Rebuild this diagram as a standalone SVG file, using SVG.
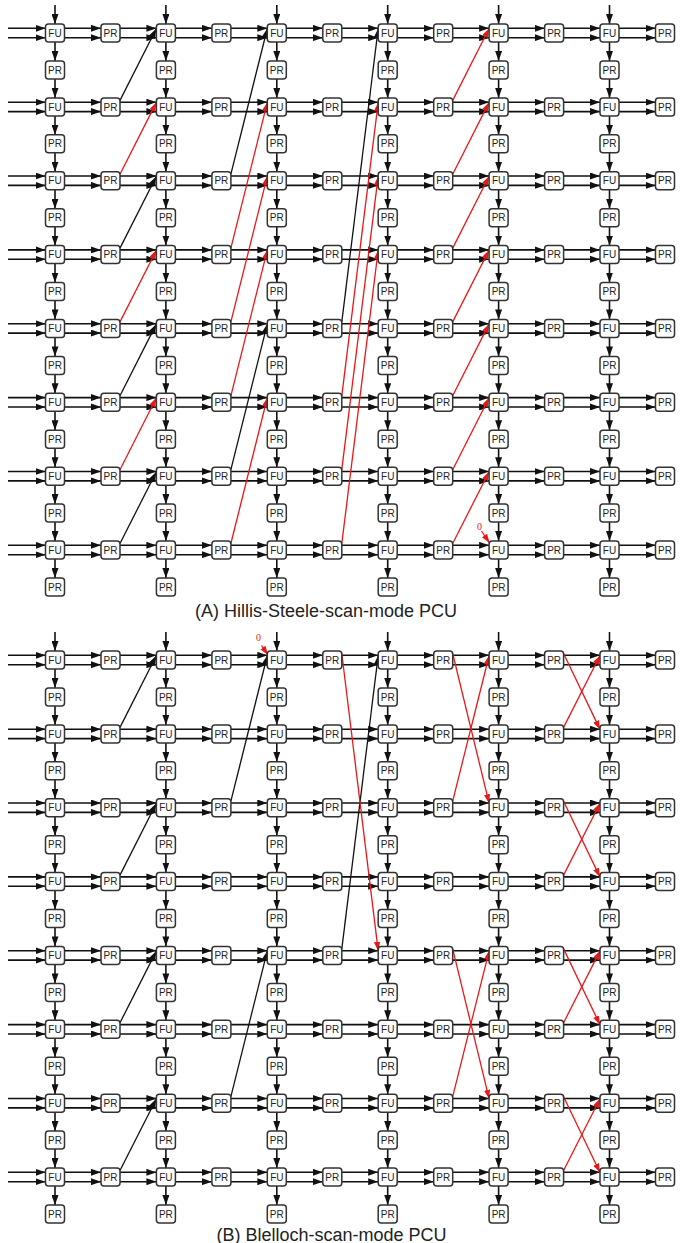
<svg xmlns="http://www.w3.org/2000/svg" xmlns:xlink="http://www.w3.org/1999/xlink" width="687" height="1243" viewBox="0 0 687 1243">
<style>
rect{fill:#fff;stroke:#333;stroke-width:1.5}
text{font-family:"Liberation Sans",Arial,sans-serif;font-size:10px;text-anchor:middle;fill:#222}
.title{font-size:18px;text-anchor:start}
.zero{font-family:"Liberation Serif","Times New Roman",serif;font-size:10px;fill:#e81818}
.h line{stroke:#111;stroke-width:1.6;marker-end:url(#ak)}
.k{stroke:#111;stroke-width:1.3;marker-end:url(#ak)}
.r{stroke:#e81818;stroke-width:1.3;marker-end:url(#ar)}
</style>
<defs>
<marker id="ak" viewBox="0 0 10 7" refX="10" refY="3.5" markerWidth="10" markerHeight="7" markerUnits="userSpaceOnUse" orient="auto"><path d="M0,0L10,3.5L0,7z" fill="#111"/></marker>
<marker id="ar" viewBox="0 0 10 7" refX="10" refY="3.5" markerWidth="9" markerHeight="6.3" markerUnits="userSpaceOnUse" orient="auto"><path d="M0,0L10,3.5L0,7z" fill="#e81818"/></marker>
<g id="hrow" class="h">
<line x1="8" y1="-4.7" x2="45.5" y2="-4.7"/><line x1="8" y1="4.7" x2="45.5" y2="4.7"/>
<line x1="64.5" y1="-4.7" x2="101" y2="-4.7"/><line x1="64.5" y1="4.7" x2="101" y2="4.7"/>
<line x1="120" y1="-4.7" x2="156.4" y2="-4.7"/><line x1="120" y1="4.7" x2="156.4" y2="4.7"/>
<line x1="175.4" y1="-4.7" x2="211.9" y2="-4.7"/><line x1="175.4" y1="4.7" x2="211.9" y2="4.7"/>
<line x1="230.9" y1="-4.7" x2="267.3" y2="-4.7"/><line x1="230.9" y1="4.7" x2="267.3" y2="4.7"/>
<line x1="286.3" y1="-4.7" x2="322.8" y2="-4.7"/><line x1="286.3" y1="4.7" x2="322.8" y2="4.7"/>
<line x1="341.8" y1="-4.7" x2="378.2" y2="-4.7"/><line x1="341.8" y1="4.7" x2="378.2" y2="4.7"/>
<line x1="397.2" y1="-4.7" x2="433.7" y2="-4.7"/><line x1="397.2" y1="4.7" x2="433.7" y2="4.7"/>
<line x1="452.7" y1="-4.7" x2="489.1" y2="-4.7"/><line x1="452.7" y1="4.7" x2="489.1" y2="4.7"/>
<line x1="508.1" y1="-4.7" x2="544.6" y2="-4.7"/><line x1="508.1" y1="4.7" x2="544.6" y2="4.7"/>
<line x1="563.6" y1="-4.7" x2="600" y2="-4.7"/><line x1="563.6" y1="4.7" x2="600" y2="4.7"/>
<line x1="619" y1="-4.7" x2="655.5" y2="-4.7"/><line x1="619" y1="4.7" x2="655.5" y2="4.7"/>
</g>
<g id="vcol" class="h">
<line x1="0" y1="-28" x2="0" y2="-9"/>
<line x1="0" y1="9" x2="0" y2="27.9"/><line x1="0" y1="45.9" x2="0" y2="64.9"/>
<line x1="0" y1="82.9" x2="0" y2="101.8"/><line x1="0" y1="119.8" x2="0" y2="138.7"/>
<line x1="0" y1="156.7" x2="0" y2="175.7"/><line x1="0" y1="193.7" x2="0" y2="212.6"/>
<line x1="0" y1="230.6" x2="0" y2="249.5"/><line x1="0" y1="267.5" x2="0" y2="286.4"/>
<line x1="0" y1="304.4" x2="0" y2="323.4"/><line x1="0" y1="341.4" x2="0" y2="360.3"/>
<line x1="0" y1="378.3" x2="0" y2="397.2"/><line x1="0" y1="415.2" x2="0" y2="434.2"/>
<line x1="0" y1="452.2" x2="0" y2="471.1"/><line x1="0" y1="489.1" x2="0" y2="508"/>
<line x1="0" y1="526" x2="0" y2="545"/>
</g>
</defs>
<rect x="0" y="0" width="687" height="1243" style="fill:#fff;stroke:none"/>
<g id="connectors">
<use href="#hrow" y="33"/><use href="#hrow" y="106.9"/><use href="#hrow" y="180.7"/><use href="#hrow" y="254.6"/>
<use href="#hrow" y="328.4"/><use href="#hrow" y="402.3"/><use href="#hrow" y="476.2"/><use href="#hrow" y="550"/>
<use href="#hrow" y="660"/><use href="#hrow" y="733.9"/><use href="#hrow" y="807.7"/><use href="#hrow" y="881.6"/>
<use href="#hrow" y="955.4"/><use href="#hrow" y="1029.3"/><use href="#hrow" y="1103.2"/><use href="#hrow" y="1177"/>
<use href="#vcol" x="55" y="33"/><use href="#vcol" x="165.9" y="33"/><use href="#vcol" x="276.8" y="33"/>
<use href="#vcol" x="387.7" y="33"/><use href="#vcol" x="498.6" y="33"/><use href="#vcol" x="609.5" y="33"/>
<use href="#vcol" x="55" y="660"/><use href="#vcol" x="165.9" y="660"/><use href="#vcol" x="276.8" y="660"/>
<use href="#vcol" x="387.7" y="660"/><use href="#vcol" x="498.6" y="660"/><use href="#vcol" x="609.5" y="660"/>
<!-- Panel A diagonals -->
<line class="k" x1="120" y1="100.4" x2="156.4" y2="28.5"/>
<line class="r" x1="120" y1="174.2" x2="156.4" y2="102.4"/>
<line class="k" x1="120" y1="248.1" x2="156.4" y2="176.2"/>
<line class="r" x1="120" y1="321.9" x2="156.4" y2="250.1"/>
<line class="k" x1="120" y1="395.8" x2="156.4" y2="323.9"/>
<line class="r" x1="120" y1="469.7" x2="156.4" y2="397.8"/>
<line class="k" x1="120" y1="543.5" x2="156.4" y2="471.7"/>
<line class="k" x1="230.9" y1="174.2" x2="267.3" y2="28.5"/>
<line class="r" x1="230.9" y1="248.1" x2="267.3" y2="102.4"/>
<line class="r" x1="230.9" y1="321.9" x2="267.3" y2="176.2"/>
<line class="r" x1="230.9" y1="395.8" x2="267.3" y2="250.1"/>
<line class="k" x1="230.9" y1="469.7" x2="267.3" y2="323.9"/>
<line class="r" x1="230.9" y1="543.5" x2="267.3" y2="397.8"/>
<line class="k" x1="341.8" y1="321.9" x2="378.2" y2="28.5"/>
<line class="r" x1="341.8" y1="395.8" x2="378.2" y2="102.4"/>
<line class="r" x1="341.8" y1="469.7" x2="378.2" y2="176.2"/>
<line class="r" x1="341.8" y1="543.5" x2="378.2" y2="250.1"/>
<line class="r" x1="452.7" y1="100.4" x2="489.1" y2="28.5"/>
<line class="r" x1="452.7" y1="174.2" x2="489.1" y2="102.4"/>
<line class="r" x1="452.7" y1="248.1" x2="489.1" y2="176.2"/>
<line class="r" x1="452.7" y1="321.9" x2="489.1" y2="250.1"/>
<line class="r" x1="452.7" y1="395.8" x2="489.1" y2="323.9"/>
<line class="r" x1="452.7" y1="469.7" x2="489.1" y2="397.8"/>
<line class="r" x1="452.7" y1="543.5" x2="489.1" y2="471.7"/>
<line class="r" x1="481.5" y1="531" x2="489.5" y2="543"/>
<!-- Panel B diagonals -->
<line class="k" x1="120" y1="727.4" x2="156.4" y2="655.5"/>
<line class="k" x1="120" y1="875.1" x2="156.4" y2="803.2"/>
<line class="k" x1="120" y1="1022.8" x2="156.4" y2="950.9"/>
<line class="k" x1="120" y1="1170.5" x2="156.4" y2="1098.7"/>
<line class="k" x1="230.9" y1="801.2" x2="267.3" y2="655.5"/>
<line class="k" x1="230.9" y1="1096.7" x2="267.3" y2="950.9"/>
<line class="k" x1="341.8" y1="948.9" x2="378.2" y2="655.5"/>
<line class="r" x1="341.8" y1="653.5" x2="378.2" y2="950.9"/>
<line class="r" x1="261.5" y1="645.5" x2="268" y2="655"/>
<line class="r" x1="452.7" y1="653.5" x2="489.1" y2="803.2"/>
<line class="r" x1="452.7" y1="801.2" x2="489.1" y2="655.5"/>
<line class="r" x1="452.7" y1="948.9" x2="489.1" y2="1098.7"/>
<line class="r" x1="452.7" y1="1096.7" x2="489.1" y2="950.9"/>
<line class="r" x1="563.6" y1="653.5" x2="600" y2="729.4"/>
<line class="r" x1="563.6" y1="727.4" x2="600" y2="655.5"/>
<line class="r" x1="563.6" y1="801.2" x2="600" y2="877.1"/>
<line class="r" x1="563.6" y1="875.1" x2="600" y2="803.2"/>
<line class="r" x1="563.6" y1="948.9" x2="600" y2="1024.8"/>
<line class="r" x1="563.6" y1="1022.8" x2="600" y2="950.9"/>
<line class="r" x1="563.6" y1="1096.7" x2="600" y2="1172.5"/>
<line class="r" x1="563.6" y1="1170.5" x2="600" y2="1098.7"/>
</g>
<text class="zero" x="479.5" y="529.5">0</text>
<text class="zero" x="258.5" y="641">0</text>
<g id="panelA">
<g id="aFU1-1" transform="translate(55,33)"><rect x="-9.5" y="-9" width="19" height="18" rx="3"/><text y="3.6">FU</text></g>
<g id="aFU1-2" transform="translate(165.9,33)"><rect x="-9.5" y="-9" width="19" height="18" rx="3"/><text y="3.6">FU</text></g>
<g id="aFU1-3" transform="translate(276.8,33)"><rect x="-9.5" y="-9" width="19" height="18" rx="3"/><text y="3.6">FU</text></g>
<g id="aFU1-4" transform="translate(387.7,33)"><rect x="-9.5" y="-9" width="19" height="18" rx="3"/><text y="3.6">FU</text></g>
<g id="aFU1-5" transform="translate(498.6,33)"><rect x="-9.5" y="-9" width="19" height="18" rx="3"/><text y="3.6">FU</text></g>
<g id="aFU1-6" transform="translate(609.5,33)"><rect x="-9.5" y="-9" width="19" height="18" rx="3"/><text y="3.6">FU</text></g>
<g id="aPRh1-1" transform="translate(110.5,33)"><rect x="-9.5" y="-9" width="19" height="18" rx="3"/><text y="3.6">PR</text></g>
<g id="aPRh1-2" transform="translate(221.4,33)"><rect x="-9.5" y="-9" width="19" height="18" rx="3"/><text y="3.6">PR</text></g>
<g id="aPRh1-3" transform="translate(332.3,33)"><rect x="-9.5" y="-9" width="19" height="18" rx="3"/><text y="3.6">PR</text></g>
<g id="aPRh1-4" transform="translate(443.2,33)"><rect x="-9.5" y="-9" width="19" height="18" rx="3"/><text y="3.6">PR</text></g>
<g id="aPRh1-5" transform="translate(554.1,33)"><rect x="-9.5" y="-9" width="19" height="18" rx="3"/><text y="3.6">PR</text></g>
<g id="aPRh1-6" transform="translate(665,33)"><rect x="-9.5" y="-9" width="19" height="18" rx="3"/><text y="3.6">PR</text></g>
<g id="aPRv1-1" transform="translate(55,69.9)"><rect x="-9.5" y="-9" width="19" height="18" rx="3"/><text y="3.6">PR</text></g>
<g id="aPRv1-2" transform="translate(165.9,69.9)"><rect x="-9.5" y="-9" width="19" height="18" rx="3"/><text y="3.6">PR</text></g>
<g id="aPRv1-3" transform="translate(276.8,69.9)"><rect x="-9.5" y="-9" width="19" height="18" rx="3"/><text y="3.6">PR</text></g>
<g id="aPRv1-4" transform="translate(387.7,69.9)"><rect x="-9.5" y="-9" width="19" height="18" rx="3"/><text y="3.6">PR</text></g>
<g id="aPRv1-5" transform="translate(498.6,69.9)"><rect x="-9.5" y="-9" width="19" height="18" rx="3"/><text y="3.6">PR</text></g>
<g id="aPRv1-6" transform="translate(609.5,69.9)"><rect x="-9.5" y="-9" width="19" height="18" rx="3"/><text y="3.6">PR</text></g>
<g id="aFU2-1" transform="translate(55,106.9)"><rect x="-9.5" y="-9" width="19" height="18" rx="3"/><text y="3.6">FU</text></g>
<g id="aFU2-2" transform="translate(165.9,106.9)"><rect x="-9.5" y="-9" width="19" height="18" rx="3"/><text y="3.6">FU</text></g>
<g id="aFU2-3" transform="translate(276.8,106.9)"><rect x="-9.5" y="-9" width="19" height="18" rx="3"/><text y="3.6">FU</text></g>
<g id="aFU2-4" transform="translate(387.7,106.9)"><rect x="-9.5" y="-9" width="19" height="18" rx="3"/><text y="3.6">FU</text></g>
<g id="aFU2-5" transform="translate(498.6,106.9)"><rect x="-9.5" y="-9" width="19" height="18" rx="3"/><text y="3.6">FU</text></g>
<g id="aFU2-6" transform="translate(609.5,106.9)"><rect x="-9.5" y="-9" width="19" height="18" rx="3"/><text y="3.6">FU</text></g>
<g id="aPRh2-1" transform="translate(110.5,106.9)"><rect x="-9.5" y="-9" width="19" height="18" rx="3"/><text y="3.6">PR</text></g>
<g id="aPRh2-2" transform="translate(221.4,106.9)"><rect x="-9.5" y="-9" width="19" height="18" rx="3"/><text y="3.6">PR</text></g>
<g id="aPRh2-3" transform="translate(332.3,106.9)"><rect x="-9.5" y="-9" width="19" height="18" rx="3"/><text y="3.6">PR</text></g>
<g id="aPRh2-4" transform="translate(443.2,106.9)"><rect x="-9.5" y="-9" width="19" height="18" rx="3"/><text y="3.6">PR</text></g>
<g id="aPRh2-5" transform="translate(554.1,106.9)"><rect x="-9.5" y="-9" width="19" height="18" rx="3"/><text y="3.6">PR</text></g>
<g id="aPRh2-6" transform="translate(665,106.9)"><rect x="-9.5" y="-9" width="19" height="18" rx="3"/><text y="3.6">PR</text></g>
<g id="aPRv2-1" transform="translate(55,143.8)"><rect x="-9.5" y="-9" width="19" height="18" rx="3"/><text y="3.6">PR</text></g>
<g id="aPRv2-2" transform="translate(165.9,143.8)"><rect x="-9.5" y="-9" width="19" height="18" rx="3"/><text y="3.6">PR</text></g>
<g id="aPRv2-3" transform="translate(276.8,143.8)"><rect x="-9.5" y="-9" width="19" height="18" rx="3"/><text y="3.6">PR</text></g>
<g id="aPRv2-4" transform="translate(387.7,143.8)"><rect x="-9.5" y="-9" width="19" height="18" rx="3"/><text y="3.6">PR</text></g>
<g id="aPRv2-5" transform="translate(498.6,143.8)"><rect x="-9.5" y="-9" width="19" height="18" rx="3"/><text y="3.6">PR</text></g>
<g id="aPRv2-6" transform="translate(609.5,143.8)"><rect x="-9.5" y="-9" width="19" height="18" rx="3"/><text y="3.6">PR</text></g>
<g id="aFU3-1" transform="translate(55,180.7)"><rect x="-9.5" y="-9" width="19" height="18" rx="3"/><text y="3.6">FU</text></g>
<g id="aFU3-2" transform="translate(165.9,180.7)"><rect x="-9.5" y="-9" width="19" height="18" rx="3"/><text y="3.6">FU</text></g>
<g id="aFU3-3" transform="translate(276.8,180.7)"><rect x="-9.5" y="-9" width="19" height="18" rx="3"/><text y="3.6">FU</text></g>
<g id="aFU3-4" transform="translate(387.7,180.7)"><rect x="-9.5" y="-9" width="19" height="18" rx="3"/><text y="3.6">FU</text></g>
<g id="aFU3-5" transform="translate(498.6,180.7)"><rect x="-9.5" y="-9" width="19" height="18" rx="3"/><text y="3.6">FU</text></g>
<g id="aFU3-6" transform="translate(609.5,180.7)"><rect x="-9.5" y="-9" width="19" height="18" rx="3"/><text y="3.6">FU</text></g>
<g id="aPRh3-1" transform="translate(110.5,180.7)"><rect x="-9.5" y="-9" width="19" height="18" rx="3"/><text y="3.6">PR</text></g>
<g id="aPRh3-2" transform="translate(221.4,180.7)"><rect x="-9.5" y="-9" width="19" height="18" rx="3"/><text y="3.6">PR</text></g>
<g id="aPRh3-3" transform="translate(332.3,180.7)"><rect x="-9.5" y="-9" width="19" height="18" rx="3"/><text y="3.6">PR</text></g>
<g id="aPRh3-4" transform="translate(443.2,180.7)"><rect x="-9.5" y="-9" width="19" height="18" rx="3"/><text y="3.6">PR</text></g>
<g id="aPRh3-5" transform="translate(554.1,180.7)"><rect x="-9.5" y="-9" width="19" height="18" rx="3"/><text y="3.6">PR</text></g>
<g id="aPRh3-6" transform="translate(665,180.7)"><rect x="-9.5" y="-9" width="19" height="18" rx="3"/><text y="3.6">PR</text></g>
<g id="aPRv3-1" transform="translate(55,217.7)"><rect x="-9.5" y="-9" width="19" height="18" rx="3"/><text y="3.6">PR</text></g>
<g id="aPRv3-2" transform="translate(165.9,217.7)"><rect x="-9.5" y="-9" width="19" height="18" rx="3"/><text y="3.6">PR</text></g>
<g id="aPRv3-3" transform="translate(276.8,217.7)"><rect x="-9.5" y="-9" width="19" height="18" rx="3"/><text y="3.6">PR</text></g>
<g id="aPRv3-4" transform="translate(387.7,217.7)"><rect x="-9.5" y="-9" width="19" height="18" rx="3"/><text y="3.6">PR</text></g>
<g id="aPRv3-5" transform="translate(498.6,217.7)"><rect x="-9.5" y="-9" width="19" height="18" rx="3"/><text y="3.6">PR</text></g>
<g id="aPRv3-6" transform="translate(609.5,217.7)"><rect x="-9.5" y="-9" width="19" height="18" rx="3"/><text y="3.6">PR</text></g>
<g id="aFU4-1" transform="translate(55,254.6)"><rect x="-9.5" y="-9" width="19" height="18" rx="3"/><text y="3.6">FU</text></g>
<g id="aFU4-2" transform="translate(165.9,254.6)"><rect x="-9.5" y="-9" width="19" height="18" rx="3"/><text y="3.6">FU</text></g>
<g id="aFU4-3" transform="translate(276.8,254.6)"><rect x="-9.5" y="-9" width="19" height="18" rx="3"/><text y="3.6">FU</text></g>
<g id="aFU4-4" transform="translate(387.7,254.6)"><rect x="-9.5" y="-9" width="19" height="18" rx="3"/><text y="3.6">FU</text></g>
<g id="aFU4-5" transform="translate(498.6,254.6)"><rect x="-9.5" y="-9" width="19" height="18" rx="3"/><text y="3.6">FU</text></g>
<g id="aFU4-6" transform="translate(609.5,254.6)"><rect x="-9.5" y="-9" width="19" height="18" rx="3"/><text y="3.6">FU</text></g>
<g id="aPRh4-1" transform="translate(110.5,254.6)"><rect x="-9.5" y="-9" width="19" height="18" rx="3"/><text y="3.6">PR</text></g>
<g id="aPRh4-2" transform="translate(221.4,254.6)"><rect x="-9.5" y="-9" width="19" height="18" rx="3"/><text y="3.6">PR</text></g>
<g id="aPRh4-3" transform="translate(332.3,254.6)"><rect x="-9.5" y="-9" width="19" height="18" rx="3"/><text y="3.6">PR</text></g>
<g id="aPRh4-4" transform="translate(443.2,254.6)"><rect x="-9.5" y="-9" width="19" height="18" rx="3"/><text y="3.6">PR</text></g>
<g id="aPRh4-5" transform="translate(554.1,254.6)"><rect x="-9.5" y="-9" width="19" height="18" rx="3"/><text y="3.6">PR</text></g>
<g id="aPRh4-6" transform="translate(665,254.6)"><rect x="-9.5" y="-9" width="19" height="18" rx="3"/><text y="3.6">PR</text></g>
<g id="aPRv4-1" transform="translate(55,291.5)"><rect x="-9.5" y="-9" width="19" height="18" rx="3"/><text y="3.6">PR</text></g>
<g id="aPRv4-2" transform="translate(165.9,291.5)"><rect x="-9.5" y="-9" width="19" height="18" rx="3"/><text y="3.6">PR</text></g>
<g id="aPRv4-3" transform="translate(276.8,291.5)"><rect x="-9.5" y="-9" width="19" height="18" rx="3"/><text y="3.6">PR</text></g>
<g id="aPRv4-4" transform="translate(387.7,291.5)"><rect x="-9.5" y="-9" width="19" height="18" rx="3"/><text y="3.6">PR</text></g>
<g id="aPRv4-5" transform="translate(498.6,291.5)"><rect x="-9.5" y="-9" width="19" height="18" rx="3"/><text y="3.6">PR</text></g>
<g id="aPRv4-6" transform="translate(609.5,291.5)"><rect x="-9.5" y="-9" width="19" height="18" rx="3"/><text y="3.6">PR</text></g>
<g id="aFU5-1" transform="translate(55,328.4)"><rect x="-9.5" y="-9" width="19" height="18" rx="3"/><text y="3.6">FU</text></g>
<g id="aFU5-2" transform="translate(165.9,328.4)"><rect x="-9.5" y="-9" width="19" height="18" rx="3"/><text y="3.6">FU</text></g>
<g id="aFU5-3" transform="translate(276.8,328.4)"><rect x="-9.5" y="-9" width="19" height="18" rx="3"/><text y="3.6">FU</text></g>
<g id="aFU5-4" transform="translate(387.7,328.4)"><rect x="-9.5" y="-9" width="19" height="18" rx="3"/><text y="3.6">FU</text></g>
<g id="aFU5-5" transform="translate(498.6,328.4)"><rect x="-9.5" y="-9" width="19" height="18" rx="3"/><text y="3.6">FU</text></g>
<g id="aFU5-6" transform="translate(609.5,328.4)"><rect x="-9.5" y="-9" width="19" height="18" rx="3"/><text y="3.6">FU</text></g>
<g id="aPRh5-1" transform="translate(110.5,328.4)"><rect x="-9.5" y="-9" width="19" height="18" rx="3"/><text y="3.6">PR</text></g>
<g id="aPRh5-2" transform="translate(221.4,328.4)"><rect x="-9.5" y="-9" width="19" height="18" rx="3"/><text y="3.6">PR</text></g>
<g id="aPRh5-3" transform="translate(332.3,328.4)"><rect x="-9.5" y="-9" width="19" height="18" rx="3"/><text y="3.6">PR</text></g>
<g id="aPRh5-4" transform="translate(443.2,328.4)"><rect x="-9.5" y="-9" width="19" height="18" rx="3"/><text y="3.6">PR</text></g>
<g id="aPRh5-5" transform="translate(554.1,328.4)"><rect x="-9.5" y="-9" width="19" height="18" rx="3"/><text y="3.6">PR</text></g>
<g id="aPRh5-6" transform="translate(665,328.4)"><rect x="-9.5" y="-9" width="19" height="18" rx="3"/><text y="3.6">PR</text></g>
<g id="aPRv5-1" transform="translate(55,365.4)"><rect x="-9.5" y="-9" width="19" height="18" rx="3"/><text y="3.6">PR</text></g>
<g id="aPRv5-2" transform="translate(165.9,365.4)"><rect x="-9.5" y="-9" width="19" height="18" rx="3"/><text y="3.6">PR</text></g>
<g id="aPRv5-3" transform="translate(276.8,365.4)"><rect x="-9.5" y="-9" width="19" height="18" rx="3"/><text y="3.6">PR</text></g>
<g id="aPRv5-4" transform="translate(387.7,365.4)"><rect x="-9.5" y="-9" width="19" height="18" rx="3"/><text y="3.6">PR</text></g>
<g id="aPRv5-5" transform="translate(498.6,365.4)"><rect x="-9.5" y="-9" width="19" height="18" rx="3"/><text y="3.6">PR</text></g>
<g id="aPRv5-6" transform="translate(609.5,365.4)"><rect x="-9.5" y="-9" width="19" height="18" rx="3"/><text y="3.6">PR</text></g>
<g id="aFU6-1" transform="translate(55,402.3)"><rect x="-9.5" y="-9" width="19" height="18" rx="3"/><text y="3.6">FU</text></g>
<g id="aFU6-2" transform="translate(165.9,402.3)"><rect x="-9.5" y="-9" width="19" height="18" rx="3"/><text y="3.6">FU</text></g>
<g id="aFU6-3" transform="translate(276.8,402.3)"><rect x="-9.5" y="-9" width="19" height="18" rx="3"/><text y="3.6">FU</text></g>
<g id="aFU6-4" transform="translate(387.7,402.3)"><rect x="-9.5" y="-9" width="19" height="18" rx="3"/><text y="3.6">FU</text></g>
<g id="aFU6-5" transform="translate(498.6,402.3)"><rect x="-9.5" y="-9" width="19" height="18" rx="3"/><text y="3.6">FU</text></g>
<g id="aFU6-6" transform="translate(609.5,402.3)"><rect x="-9.5" y="-9" width="19" height="18" rx="3"/><text y="3.6">FU</text></g>
<g id="aPRh6-1" transform="translate(110.5,402.3)"><rect x="-9.5" y="-9" width="19" height="18" rx="3"/><text y="3.6">PR</text></g>
<g id="aPRh6-2" transform="translate(221.4,402.3)"><rect x="-9.5" y="-9" width="19" height="18" rx="3"/><text y="3.6">PR</text></g>
<g id="aPRh6-3" transform="translate(332.3,402.3)"><rect x="-9.5" y="-9" width="19" height="18" rx="3"/><text y="3.6">PR</text></g>
<g id="aPRh6-4" transform="translate(443.2,402.3)"><rect x="-9.5" y="-9" width="19" height="18" rx="3"/><text y="3.6">PR</text></g>
<g id="aPRh6-5" transform="translate(554.1,402.3)"><rect x="-9.5" y="-9" width="19" height="18" rx="3"/><text y="3.6">PR</text></g>
<g id="aPRh6-6" transform="translate(665,402.3)"><rect x="-9.5" y="-9" width="19" height="18" rx="3"/><text y="3.6">PR</text></g>
<g id="aPRv6-1" transform="translate(55,439.2)"><rect x="-9.5" y="-9" width="19" height="18" rx="3"/><text y="3.6">PR</text></g>
<g id="aPRv6-2" transform="translate(165.9,439.2)"><rect x="-9.5" y="-9" width="19" height="18" rx="3"/><text y="3.6">PR</text></g>
<g id="aPRv6-3" transform="translate(276.8,439.2)"><rect x="-9.5" y="-9" width="19" height="18" rx="3"/><text y="3.6">PR</text></g>
<g id="aPRv6-4" transform="translate(387.7,439.2)"><rect x="-9.5" y="-9" width="19" height="18" rx="3"/><text y="3.6">PR</text></g>
<g id="aPRv6-5" transform="translate(498.6,439.2)"><rect x="-9.5" y="-9" width="19" height="18" rx="3"/><text y="3.6">PR</text></g>
<g id="aPRv6-6" transform="translate(609.5,439.2)"><rect x="-9.5" y="-9" width="19" height="18" rx="3"/><text y="3.6">PR</text></g>
<g id="aFU7-1" transform="translate(55,476.2)"><rect x="-9.5" y="-9" width="19" height="18" rx="3"/><text y="3.6">FU</text></g>
<g id="aFU7-2" transform="translate(165.9,476.2)"><rect x="-9.5" y="-9" width="19" height="18" rx="3"/><text y="3.6">FU</text></g>
<g id="aFU7-3" transform="translate(276.8,476.2)"><rect x="-9.5" y="-9" width="19" height="18" rx="3"/><text y="3.6">FU</text></g>
<g id="aFU7-4" transform="translate(387.7,476.2)"><rect x="-9.5" y="-9" width="19" height="18" rx="3"/><text y="3.6">FU</text></g>
<g id="aFU7-5" transform="translate(498.6,476.2)"><rect x="-9.5" y="-9" width="19" height="18" rx="3"/><text y="3.6">FU</text></g>
<g id="aFU7-6" transform="translate(609.5,476.2)"><rect x="-9.5" y="-9" width="19" height="18" rx="3"/><text y="3.6">FU</text></g>
<g id="aPRh7-1" transform="translate(110.5,476.2)"><rect x="-9.5" y="-9" width="19" height="18" rx="3"/><text y="3.6">PR</text></g>
<g id="aPRh7-2" transform="translate(221.4,476.2)"><rect x="-9.5" y="-9" width="19" height="18" rx="3"/><text y="3.6">PR</text></g>
<g id="aPRh7-3" transform="translate(332.3,476.2)"><rect x="-9.5" y="-9" width="19" height="18" rx="3"/><text y="3.6">PR</text></g>
<g id="aPRh7-4" transform="translate(443.2,476.2)"><rect x="-9.5" y="-9" width="19" height="18" rx="3"/><text y="3.6">PR</text></g>
<g id="aPRh7-5" transform="translate(554.1,476.2)"><rect x="-9.5" y="-9" width="19" height="18" rx="3"/><text y="3.6">PR</text></g>
<g id="aPRh7-6" transform="translate(665,476.2)"><rect x="-9.5" y="-9" width="19" height="18" rx="3"/><text y="3.6">PR</text></g>
<g id="aPRv7-1" transform="translate(55,513.1)"><rect x="-9.5" y="-9" width="19" height="18" rx="3"/><text y="3.6">PR</text></g>
<g id="aPRv7-2" transform="translate(165.9,513.1)"><rect x="-9.5" y="-9" width="19" height="18" rx="3"/><text y="3.6">PR</text></g>
<g id="aPRv7-3" transform="translate(276.8,513.1)"><rect x="-9.5" y="-9" width="19" height="18" rx="3"/><text y="3.6">PR</text></g>
<g id="aPRv7-4" transform="translate(387.7,513.1)"><rect x="-9.5" y="-9" width="19" height="18" rx="3"/><text y="3.6">PR</text></g>
<g id="aPRv7-5" transform="translate(498.6,513.1)"><rect x="-9.5" y="-9" width="19" height="18" rx="3"/><text y="3.6">PR</text></g>
<g id="aPRv7-6" transform="translate(609.5,513.1)"><rect x="-9.5" y="-9" width="19" height="18" rx="3"/><text y="3.6">PR</text></g>
<g id="aFU8-1" transform="translate(55,550)"><rect x="-9.5" y="-9" width="19" height="18" rx="3"/><text y="3.6">FU</text></g>
<g id="aFU8-2" transform="translate(165.9,550)"><rect x="-9.5" y="-9" width="19" height="18" rx="3"/><text y="3.6">FU</text></g>
<g id="aFU8-3" transform="translate(276.8,550)"><rect x="-9.5" y="-9" width="19" height="18" rx="3"/><text y="3.6">FU</text></g>
<g id="aFU8-4" transform="translate(387.7,550)"><rect x="-9.5" y="-9" width="19" height="18" rx="3"/><text y="3.6">FU</text></g>
<g id="aFU8-5" transform="translate(498.6,550)"><rect x="-9.5" y="-9" width="19" height="18" rx="3"/><text y="3.6">FU</text></g>
<g id="aFU8-6" transform="translate(609.5,550)"><rect x="-9.5" y="-9" width="19" height="18" rx="3"/><text y="3.6">FU</text></g>
<g id="aPRh8-1" transform="translate(110.5,550)"><rect x="-9.5" y="-9" width="19" height="18" rx="3"/><text y="3.6">PR</text></g>
<g id="aPRh8-2" transform="translate(221.4,550)"><rect x="-9.5" y="-9" width="19" height="18" rx="3"/><text y="3.6">PR</text></g>
<g id="aPRh8-3" transform="translate(332.3,550)"><rect x="-9.5" y="-9" width="19" height="18" rx="3"/><text y="3.6">PR</text></g>
<g id="aPRh8-4" transform="translate(443.2,550)"><rect x="-9.5" y="-9" width="19" height="18" rx="3"/><text y="3.6">PR</text></g>
<g id="aPRh8-5" transform="translate(554.1,550)"><rect x="-9.5" y="-9" width="19" height="18" rx="3"/><text y="3.6">PR</text></g>
<g id="aPRh8-6" transform="translate(665,550)"><rect x="-9.5" y="-9" width="19" height="18" rx="3"/><text y="3.6">PR</text></g>
<g id="aPRv8-1" transform="translate(55,587)"><rect x="-9.5" y="-9" width="19" height="18" rx="3"/><text y="3.6">PR</text></g>
<g id="aPRv8-2" transform="translate(165.9,587)"><rect x="-9.5" y="-9" width="19" height="18" rx="3"/><text y="3.6">PR</text></g>
<g id="aPRv8-3" transform="translate(276.8,587)"><rect x="-9.5" y="-9" width="19" height="18" rx="3"/><text y="3.6">PR</text></g>
<g id="aPRv8-4" transform="translate(387.7,587)"><rect x="-9.5" y="-9" width="19" height="18" rx="3"/><text y="3.6">PR</text></g>
<g id="aPRv8-5" transform="translate(498.6,587)"><rect x="-9.5" y="-9" width="19" height="18" rx="3"/><text y="3.6">PR</text></g>
<g id="aPRv8-6" transform="translate(609.5,587)"><rect x="-9.5" y="-9" width="19" height="18" rx="3"/><text y="3.6">PR</text></g>
</g>
<g id="panelB">
<g id="bFU1-1" transform="translate(55,660)"><rect x="-9.5" y="-9" width="19" height="18" rx="3"/><text y="3.6">FU</text></g>
<g id="bFU1-2" transform="translate(165.9,660)"><rect x="-9.5" y="-9" width="19" height="18" rx="3"/><text y="3.6">FU</text></g>
<g id="bFU1-3" transform="translate(276.8,660)"><rect x="-9.5" y="-9" width="19" height="18" rx="3"/><text y="3.6">FU</text></g>
<g id="bFU1-4" transform="translate(387.7,660)"><rect x="-9.5" y="-9" width="19" height="18" rx="3"/><text y="3.6">FU</text></g>
<g id="bFU1-5" transform="translate(498.6,660)"><rect x="-9.5" y="-9" width="19" height="18" rx="3"/><text y="3.6">FU</text></g>
<g id="bFU1-6" transform="translate(609.5,660)"><rect x="-9.5" y="-9" width="19" height="18" rx="3"/><text y="3.6">FU</text></g>
<g id="bPRh1-1" transform="translate(110.5,660)"><rect x="-9.5" y="-9" width="19" height="18" rx="3"/><text y="3.6">PR</text></g>
<g id="bPRh1-2" transform="translate(221.4,660)"><rect x="-9.5" y="-9" width="19" height="18" rx="3"/><text y="3.6">PR</text></g>
<g id="bPRh1-3" transform="translate(332.3,660)"><rect x="-9.5" y="-9" width="19" height="18" rx="3"/><text y="3.6">PR</text></g>
<g id="bPRh1-4" transform="translate(443.2,660)"><rect x="-9.5" y="-9" width="19" height="18" rx="3"/><text y="3.6">PR</text></g>
<g id="bPRh1-5" transform="translate(554.1,660)"><rect x="-9.5" y="-9" width="19" height="18" rx="3"/><text y="3.6">PR</text></g>
<g id="bPRh1-6" transform="translate(665,660)"><rect x="-9.5" y="-9" width="19" height="18" rx="3"/><text y="3.6">PR</text></g>
<g id="bPRv1-1" transform="translate(55,696.9)"><rect x="-9.5" y="-9" width="19" height="18" rx="3"/><text y="3.6">PR</text></g>
<g id="bPRv1-2" transform="translate(165.9,696.9)"><rect x="-9.5" y="-9" width="19" height="18" rx="3"/><text y="3.6">PR</text></g>
<g id="bPRv1-3" transform="translate(276.8,696.9)"><rect x="-9.5" y="-9" width="19" height="18" rx="3"/><text y="3.6">PR</text></g>
<g id="bPRv1-4" transform="translate(387.7,696.9)"><rect x="-9.5" y="-9" width="19" height="18" rx="3"/><text y="3.6">PR</text></g>
<g id="bPRv1-5" transform="translate(498.6,696.9)"><rect x="-9.5" y="-9" width="19" height="18" rx="3"/><text y="3.6">PR</text></g>
<g id="bPRv1-6" transform="translate(609.5,696.9)"><rect x="-9.5" y="-9" width="19" height="18" rx="3"/><text y="3.6">PR</text></g>
<g id="bFU2-1" transform="translate(55,733.9)"><rect x="-9.5" y="-9" width="19" height="18" rx="3"/><text y="3.6">FU</text></g>
<g id="bFU2-2" transform="translate(165.9,733.9)"><rect x="-9.5" y="-9" width="19" height="18" rx="3"/><text y="3.6">FU</text></g>
<g id="bFU2-3" transform="translate(276.8,733.9)"><rect x="-9.5" y="-9" width="19" height="18" rx="3"/><text y="3.6">FU</text></g>
<g id="bFU2-4" transform="translate(387.7,733.9)"><rect x="-9.5" y="-9" width="19" height="18" rx="3"/><text y="3.6">FU</text></g>
<g id="bFU2-5" transform="translate(498.6,733.9)"><rect x="-9.5" y="-9" width="19" height="18" rx="3"/><text y="3.6">FU</text></g>
<g id="bFU2-6" transform="translate(609.5,733.9)"><rect x="-9.5" y="-9" width="19" height="18" rx="3"/><text y="3.6">FU</text></g>
<g id="bPRh2-1" transform="translate(110.5,733.9)"><rect x="-9.5" y="-9" width="19" height="18" rx="3"/><text y="3.6">PR</text></g>
<g id="bPRh2-2" transform="translate(221.4,733.9)"><rect x="-9.5" y="-9" width="19" height="18" rx="3"/><text y="3.6">PR</text></g>
<g id="bPRh2-3" transform="translate(332.3,733.9)"><rect x="-9.5" y="-9" width="19" height="18" rx="3"/><text y="3.6">PR</text></g>
<g id="bPRh2-4" transform="translate(443.2,733.9)"><rect x="-9.5" y="-9" width="19" height="18" rx="3"/><text y="3.6">PR</text></g>
<g id="bPRh2-5" transform="translate(554.1,733.9)"><rect x="-9.5" y="-9" width="19" height="18" rx="3"/><text y="3.6">PR</text></g>
<g id="bPRh2-6" transform="translate(665,733.9)"><rect x="-9.5" y="-9" width="19" height="18" rx="3"/><text y="3.6">PR</text></g>
<g id="bPRv2-1" transform="translate(55,770.8)"><rect x="-9.5" y="-9" width="19" height="18" rx="3"/><text y="3.6">PR</text></g>
<g id="bPRv2-2" transform="translate(165.9,770.8)"><rect x="-9.5" y="-9" width="19" height="18" rx="3"/><text y="3.6">PR</text></g>
<g id="bPRv2-3" transform="translate(276.8,770.8)"><rect x="-9.5" y="-9" width="19" height="18" rx="3"/><text y="3.6">PR</text></g>
<g id="bPRv2-4" transform="translate(387.7,770.8)"><rect x="-9.5" y="-9" width="19" height="18" rx="3"/><text y="3.6">PR</text></g>
<g id="bPRv2-5" transform="translate(498.6,770.8)"><rect x="-9.5" y="-9" width="19" height="18" rx="3"/><text y="3.6">PR</text></g>
<g id="bPRv2-6" transform="translate(609.5,770.8)"><rect x="-9.5" y="-9" width="19" height="18" rx="3"/><text y="3.6">PR</text></g>
<g id="bFU3-1" transform="translate(55,807.7)"><rect x="-9.5" y="-9" width="19" height="18" rx="3"/><text y="3.6">FU</text></g>
<g id="bFU3-2" transform="translate(165.9,807.7)"><rect x="-9.5" y="-9" width="19" height="18" rx="3"/><text y="3.6">FU</text></g>
<g id="bFU3-3" transform="translate(276.8,807.7)"><rect x="-9.5" y="-9" width="19" height="18" rx="3"/><text y="3.6">FU</text></g>
<g id="bFU3-4" transform="translate(387.7,807.7)"><rect x="-9.5" y="-9" width="19" height="18" rx="3"/><text y="3.6">FU</text></g>
<g id="bFU3-5" transform="translate(498.6,807.7)"><rect x="-9.5" y="-9" width="19" height="18" rx="3"/><text y="3.6">FU</text></g>
<g id="bFU3-6" transform="translate(609.5,807.7)"><rect x="-9.5" y="-9" width="19" height="18" rx="3"/><text y="3.6">FU</text></g>
<g id="bPRh3-1" transform="translate(110.5,807.7)"><rect x="-9.5" y="-9" width="19" height="18" rx="3"/><text y="3.6">PR</text></g>
<g id="bPRh3-2" transform="translate(221.4,807.7)"><rect x="-9.5" y="-9" width="19" height="18" rx="3"/><text y="3.6">PR</text></g>
<g id="bPRh3-3" transform="translate(332.3,807.7)"><rect x="-9.5" y="-9" width="19" height="18" rx="3"/><text y="3.6">PR</text></g>
<g id="bPRh3-4" transform="translate(443.2,807.7)"><rect x="-9.5" y="-9" width="19" height="18" rx="3"/><text y="3.6">PR</text></g>
<g id="bPRh3-5" transform="translate(554.1,807.7)"><rect x="-9.5" y="-9" width="19" height="18" rx="3"/><text y="3.6">PR</text></g>
<g id="bPRh3-6" transform="translate(665,807.7)"><rect x="-9.5" y="-9" width="19" height="18" rx="3"/><text y="3.6">PR</text></g>
<g id="bPRv3-1" transform="translate(55,844.7)"><rect x="-9.5" y="-9" width="19" height="18" rx="3"/><text y="3.6">PR</text></g>
<g id="bPRv3-2" transform="translate(165.9,844.7)"><rect x="-9.5" y="-9" width="19" height="18" rx="3"/><text y="3.6">PR</text></g>
<g id="bPRv3-3" transform="translate(276.8,844.7)"><rect x="-9.5" y="-9" width="19" height="18" rx="3"/><text y="3.6">PR</text></g>
<g id="bPRv3-4" transform="translate(387.7,844.7)"><rect x="-9.5" y="-9" width="19" height="18" rx="3"/><text y="3.6">PR</text></g>
<g id="bPRv3-5" transform="translate(498.6,844.7)"><rect x="-9.5" y="-9" width="19" height="18" rx="3"/><text y="3.6">PR</text></g>
<g id="bPRv3-6" transform="translate(609.5,844.7)"><rect x="-9.5" y="-9" width="19" height="18" rx="3"/><text y="3.6">PR</text></g>
<g id="bFU4-1" transform="translate(55,881.6)"><rect x="-9.5" y="-9" width="19" height="18" rx="3"/><text y="3.6">FU</text></g>
<g id="bFU4-2" transform="translate(165.9,881.6)"><rect x="-9.5" y="-9" width="19" height="18" rx="3"/><text y="3.6">FU</text></g>
<g id="bFU4-3" transform="translate(276.8,881.6)"><rect x="-9.5" y="-9" width="19" height="18" rx="3"/><text y="3.6">FU</text></g>
<g id="bFU4-4" transform="translate(387.7,881.6)"><rect x="-9.5" y="-9" width="19" height="18" rx="3"/><text y="3.6">FU</text></g>
<g id="bFU4-5" transform="translate(498.6,881.6)"><rect x="-9.5" y="-9" width="19" height="18" rx="3"/><text y="3.6">FU</text></g>
<g id="bFU4-6" transform="translate(609.5,881.6)"><rect x="-9.5" y="-9" width="19" height="18" rx="3"/><text y="3.6">FU</text></g>
<g id="bPRh4-1" transform="translate(110.5,881.6)"><rect x="-9.5" y="-9" width="19" height="18" rx="3"/><text y="3.6">PR</text></g>
<g id="bPRh4-2" transform="translate(221.4,881.6)"><rect x="-9.5" y="-9" width="19" height="18" rx="3"/><text y="3.6">PR</text></g>
<g id="bPRh4-3" transform="translate(332.3,881.6)"><rect x="-9.5" y="-9" width="19" height="18" rx="3"/><text y="3.6">PR</text></g>
<g id="bPRh4-4" transform="translate(443.2,881.6)"><rect x="-9.5" y="-9" width="19" height="18" rx="3"/><text y="3.6">PR</text></g>
<g id="bPRh4-5" transform="translate(554.1,881.6)"><rect x="-9.5" y="-9" width="19" height="18" rx="3"/><text y="3.6">PR</text></g>
<g id="bPRh4-6" transform="translate(665,881.6)"><rect x="-9.5" y="-9" width="19" height="18" rx="3"/><text y="3.6">PR</text></g>
<g id="bPRv4-1" transform="translate(55,918.5)"><rect x="-9.5" y="-9" width="19" height="18" rx="3"/><text y="3.6">PR</text></g>
<g id="bPRv4-2" transform="translate(165.9,918.5)"><rect x="-9.5" y="-9" width="19" height="18" rx="3"/><text y="3.6">PR</text></g>
<g id="bPRv4-3" transform="translate(276.8,918.5)"><rect x="-9.5" y="-9" width="19" height="18" rx="3"/><text y="3.6">PR</text></g>
<g id="bPRv4-4" transform="translate(387.7,918.5)"><rect x="-9.5" y="-9" width="19" height="18" rx="3"/><text y="3.6">PR</text></g>
<g id="bPRv4-5" transform="translate(498.6,918.5)"><rect x="-9.5" y="-9" width="19" height="18" rx="3"/><text y="3.6">PR</text></g>
<g id="bPRv4-6" transform="translate(609.5,918.5)"><rect x="-9.5" y="-9" width="19" height="18" rx="3"/><text y="3.6">PR</text></g>
<g id="bFU5-1" transform="translate(55,955.4)"><rect x="-9.5" y="-9" width="19" height="18" rx="3"/><text y="3.6">FU</text></g>
<g id="bFU5-2" transform="translate(165.9,955.4)"><rect x="-9.5" y="-9" width="19" height="18" rx="3"/><text y="3.6">FU</text></g>
<g id="bFU5-3" transform="translate(276.8,955.4)"><rect x="-9.5" y="-9" width="19" height="18" rx="3"/><text y="3.6">FU</text></g>
<g id="bFU5-4" transform="translate(387.7,955.4)"><rect x="-9.5" y="-9" width="19" height="18" rx="3"/><text y="3.6">FU</text></g>
<g id="bFU5-5" transform="translate(498.6,955.4)"><rect x="-9.5" y="-9" width="19" height="18" rx="3"/><text y="3.6">FU</text></g>
<g id="bFU5-6" transform="translate(609.5,955.4)"><rect x="-9.5" y="-9" width="19" height="18" rx="3"/><text y="3.6">FU</text></g>
<g id="bPRh5-1" transform="translate(110.5,955.4)"><rect x="-9.5" y="-9" width="19" height="18" rx="3"/><text y="3.6">PR</text></g>
<g id="bPRh5-2" transform="translate(221.4,955.4)"><rect x="-9.5" y="-9" width="19" height="18" rx="3"/><text y="3.6">PR</text></g>
<g id="bPRh5-3" transform="translate(332.3,955.4)"><rect x="-9.5" y="-9" width="19" height="18" rx="3"/><text y="3.6">PR</text></g>
<g id="bPRh5-4" transform="translate(443.2,955.4)"><rect x="-9.5" y="-9" width="19" height="18" rx="3"/><text y="3.6">PR</text></g>
<g id="bPRh5-5" transform="translate(554.1,955.4)"><rect x="-9.5" y="-9" width="19" height="18" rx="3"/><text y="3.6">PR</text></g>
<g id="bPRh5-6" transform="translate(665,955.4)"><rect x="-9.5" y="-9" width="19" height="18" rx="3"/><text y="3.6">PR</text></g>
<g id="bPRv5-1" transform="translate(55,992.4)"><rect x="-9.5" y="-9" width="19" height="18" rx="3"/><text y="3.6">PR</text></g>
<g id="bPRv5-2" transform="translate(165.9,992.4)"><rect x="-9.5" y="-9" width="19" height="18" rx="3"/><text y="3.6">PR</text></g>
<g id="bPRv5-3" transform="translate(276.8,992.4)"><rect x="-9.5" y="-9" width="19" height="18" rx="3"/><text y="3.6">PR</text></g>
<g id="bPRv5-4" transform="translate(387.7,992.4)"><rect x="-9.5" y="-9" width="19" height="18" rx="3"/><text y="3.6">PR</text></g>
<g id="bPRv5-5" transform="translate(498.6,992.4)"><rect x="-9.5" y="-9" width="19" height="18" rx="3"/><text y="3.6">PR</text></g>
<g id="bPRv5-6" transform="translate(609.5,992.4)"><rect x="-9.5" y="-9" width="19" height="18" rx="3"/><text y="3.6">PR</text></g>
<g id="bFU6-1" transform="translate(55,1029.3)"><rect x="-9.5" y="-9" width="19" height="18" rx="3"/><text y="3.6">FU</text></g>
<g id="bFU6-2" transform="translate(165.9,1029.3)"><rect x="-9.5" y="-9" width="19" height="18" rx="3"/><text y="3.6">FU</text></g>
<g id="bFU6-3" transform="translate(276.8,1029.3)"><rect x="-9.5" y="-9" width="19" height="18" rx="3"/><text y="3.6">FU</text></g>
<g id="bFU6-4" transform="translate(387.7,1029.3)"><rect x="-9.5" y="-9" width="19" height="18" rx="3"/><text y="3.6">FU</text></g>
<g id="bFU6-5" transform="translate(498.6,1029.3)"><rect x="-9.5" y="-9" width="19" height="18" rx="3"/><text y="3.6">FU</text></g>
<g id="bFU6-6" transform="translate(609.5,1029.3)"><rect x="-9.5" y="-9" width="19" height="18" rx="3"/><text y="3.6">FU</text></g>
<g id="bPRh6-1" transform="translate(110.5,1029.3)"><rect x="-9.5" y="-9" width="19" height="18" rx="3"/><text y="3.6">PR</text></g>
<g id="bPRh6-2" transform="translate(221.4,1029.3)"><rect x="-9.5" y="-9" width="19" height="18" rx="3"/><text y="3.6">PR</text></g>
<g id="bPRh6-3" transform="translate(332.3,1029.3)"><rect x="-9.5" y="-9" width="19" height="18" rx="3"/><text y="3.6">PR</text></g>
<g id="bPRh6-4" transform="translate(443.2,1029.3)"><rect x="-9.5" y="-9" width="19" height="18" rx="3"/><text y="3.6">PR</text></g>
<g id="bPRh6-5" transform="translate(554.1,1029.3)"><rect x="-9.5" y="-9" width="19" height="18" rx="3"/><text y="3.6">PR</text></g>
<g id="bPRh6-6" transform="translate(665,1029.3)"><rect x="-9.5" y="-9" width="19" height="18" rx="3"/><text y="3.6">PR</text></g>
<g id="bPRv6-1" transform="translate(55,1066.2)"><rect x="-9.5" y="-9" width="19" height="18" rx="3"/><text y="3.6">PR</text></g>
<g id="bPRv6-2" transform="translate(165.9,1066.2)"><rect x="-9.5" y="-9" width="19" height="18" rx="3"/><text y="3.6">PR</text></g>
<g id="bPRv6-3" transform="translate(276.8,1066.2)"><rect x="-9.5" y="-9" width="19" height="18" rx="3"/><text y="3.6">PR</text></g>
<g id="bPRv6-4" transform="translate(387.7,1066.2)"><rect x="-9.5" y="-9" width="19" height="18" rx="3"/><text y="3.6">PR</text></g>
<g id="bPRv6-5" transform="translate(498.6,1066.2)"><rect x="-9.5" y="-9" width="19" height="18" rx="3"/><text y="3.6">PR</text></g>
<g id="bPRv6-6" transform="translate(609.5,1066.2)"><rect x="-9.5" y="-9" width="19" height="18" rx="3"/><text y="3.6">PR</text></g>
<g id="bFU7-1" transform="translate(55,1103.2)"><rect x="-9.5" y="-9" width="19" height="18" rx="3"/><text y="3.6">FU</text></g>
<g id="bFU7-2" transform="translate(165.9,1103.2)"><rect x="-9.5" y="-9" width="19" height="18" rx="3"/><text y="3.6">FU</text></g>
<g id="bFU7-3" transform="translate(276.8,1103.2)"><rect x="-9.5" y="-9" width="19" height="18" rx="3"/><text y="3.6">FU</text></g>
<g id="bFU7-4" transform="translate(387.7,1103.2)"><rect x="-9.5" y="-9" width="19" height="18" rx="3"/><text y="3.6">FU</text></g>
<g id="bFU7-5" transform="translate(498.6,1103.2)"><rect x="-9.5" y="-9" width="19" height="18" rx="3"/><text y="3.6">FU</text></g>
<g id="bFU7-6" transform="translate(609.5,1103.2)"><rect x="-9.5" y="-9" width="19" height="18" rx="3"/><text y="3.6">FU</text></g>
<g id="bPRh7-1" transform="translate(110.5,1103.2)"><rect x="-9.5" y="-9" width="19" height="18" rx="3"/><text y="3.6">PR</text></g>
<g id="bPRh7-2" transform="translate(221.4,1103.2)"><rect x="-9.5" y="-9" width="19" height="18" rx="3"/><text y="3.6">PR</text></g>
<g id="bPRh7-3" transform="translate(332.3,1103.2)"><rect x="-9.5" y="-9" width="19" height="18" rx="3"/><text y="3.6">PR</text></g>
<g id="bPRh7-4" transform="translate(443.2,1103.2)"><rect x="-9.5" y="-9" width="19" height="18" rx="3"/><text y="3.6">PR</text></g>
<g id="bPRh7-5" transform="translate(554.1,1103.2)"><rect x="-9.5" y="-9" width="19" height="18" rx="3"/><text y="3.6">PR</text></g>
<g id="bPRh7-6" transform="translate(665,1103.2)"><rect x="-9.5" y="-9" width="19" height="18" rx="3"/><text y="3.6">PR</text></g>
<g id="bPRv7-1" transform="translate(55,1140.1)"><rect x="-9.5" y="-9" width="19" height="18" rx="3"/><text y="3.6">PR</text></g>
<g id="bPRv7-2" transform="translate(165.9,1140.1)"><rect x="-9.5" y="-9" width="19" height="18" rx="3"/><text y="3.6">PR</text></g>
<g id="bPRv7-3" transform="translate(276.8,1140.1)"><rect x="-9.5" y="-9" width="19" height="18" rx="3"/><text y="3.6">PR</text></g>
<g id="bPRv7-4" transform="translate(387.7,1140.1)"><rect x="-9.5" y="-9" width="19" height="18" rx="3"/><text y="3.6">PR</text></g>
<g id="bPRv7-5" transform="translate(498.6,1140.1)"><rect x="-9.5" y="-9" width="19" height="18" rx="3"/><text y="3.6">PR</text></g>
<g id="bPRv7-6" transform="translate(609.5,1140.1)"><rect x="-9.5" y="-9" width="19" height="18" rx="3"/><text y="3.6">PR</text></g>
<g id="bFU8-1" transform="translate(55,1177)"><rect x="-9.5" y="-9" width="19" height="18" rx="3"/><text y="3.6">FU</text></g>
<g id="bFU8-2" transform="translate(165.9,1177)"><rect x="-9.5" y="-9" width="19" height="18" rx="3"/><text y="3.6">FU</text></g>
<g id="bFU8-3" transform="translate(276.8,1177)"><rect x="-9.5" y="-9" width="19" height="18" rx="3"/><text y="3.6">FU</text></g>
<g id="bFU8-4" transform="translate(387.7,1177)"><rect x="-9.5" y="-9" width="19" height="18" rx="3"/><text y="3.6">FU</text></g>
<g id="bFU8-5" transform="translate(498.6,1177)"><rect x="-9.5" y="-9" width="19" height="18" rx="3"/><text y="3.6">FU</text></g>
<g id="bFU8-6" transform="translate(609.5,1177)"><rect x="-9.5" y="-9" width="19" height="18" rx="3"/><text y="3.6">FU</text></g>
<g id="bPRh8-1" transform="translate(110.5,1177)"><rect x="-9.5" y="-9" width="19" height="18" rx="3"/><text y="3.6">PR</text></g>
<g id="bPRh8-2" transform="translate(221.4,1177)"><rect x="-9.5" y="-9" width="19" height="18" rx="3"/><text y="3.6">PR</text></g>
<g id="bPRh8-3" transform="translate(332.3,1177)"><rect x="-9.5" y="-9" width="19" height="18" rx="3"/><text y="3.6">PR</text></g>
<g id="bPRh8-4" transform="translate(443.2,1177)"><rect x="-9.5" y="-9" width="19" height="18" rx="3"/><text y="3.6">PR</text></g>
<g id="bPRh8-5" transform="translate(554.1,1177)"><rect x="-9.5" y="-9" width="19" height="18" rx="3"/><text y="3.6">PR</text></g>
<g id="bPRh8-6" transform="translate(665,1177)"><rect x="-9.5" y="-9" width="19" height="18" rx="3"/><text y="3.6">PR</text></g>
<g id="bPRv8-1" transform="translate(55,1214)"><rect x="-9.5" y="-9" width="19" height="18" rx="3"/><text y="3.6">PR</text></g>
<g id="bPRv8-2" transform="translate(165.9,1214)"><rect x="-9.5" y="-9" width="19" height="18" rx="3"/><text y="3.6">PR</text></g>
<g id="bPRv8-3" transform="translate(276.8,1214)"><rect x="-9.5" y="-9" width="19" height="18" rx="3"/><text y="3.6">PR</text></g>
<g id="bPRv8-4" transform="translate(387.7,1214)"><rect x="-9.5" y="-9" width="19" height="18" rx="3"/><text y="3.6">PR</text></g>
<g id="bPRv8-5" transform="translate(498.6,1214)"><rect x="-9.5" y="-9" width="19" height="18" rx="3"/><text y="3.6">PR</text></g>
<g id="bPRv8-6" transform="translate(609.5,1214)"><rect x="-9.5" y="-9" width="19" height="18" rx="3"/><text y="3.6">PR</text></g>
</g>
<text class="title" x="195" y="616.5">(A) Hillis-Steele-scan-mode PCU</text>
<text class="title" x="216.5" y="1240.5">(B) Blelloch-scan-mode PCU</text>
</svg>
